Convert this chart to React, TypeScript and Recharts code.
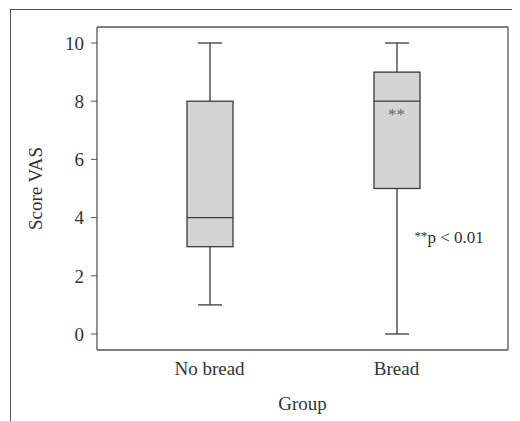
import React from 'react';
import { ComposedChart, Bar, XAxis, YAxis, ReferenceDot, CartesianGrid } from 'recharts';

const groups = ['No bread', 'Bread'];
const mins = [1, 0];
const q1s = [3, 5];
const medians = [4, 8];
const q3s = [8, 9];
const maxs = [10, 10];
const yTicks = [0, 2, 4, 6, 8, 10];
const yDomain = [-0.55, 10.55];

const data = groups.map((g, i) => ({
  group: g,
  box: [q1s[i], q3s[i]],
  min: mins[i],
  q1: q1s[i],
  median: medians[i],
  q3: q3s[i],
  max: maxs[i],
}));

const FONT = '"Liberation Serif", "Times New Roman", serif';
const AXIS = '#555';
const INK = '#333';

// top and right edges of the plot frame, taken from the chart's own offset
const topEdge = (p: any) => (p && p.offset ? [p.offset.top] : []);
const rightEdge = (p: any) => (p && p.offset ? [p.offset.left + p.offset.width] : []);

// box + whiskers, positions derived from the bar geometry (q1..q3)
function BoxShape(props: any) {
  const { x, y, width, height, payload } = props;
  const h = Math.abs(height);
  const top = Math.min(y, y + height);
  const unit = h / (payload.q3 - payload.q1);
  const toY = (v: number) => top + (payload.q3 - v) * unit;
  const cx = x + width / 2;
  const cap = width * 0.26;
  return (
    <g stroke="#3a3a3a" strokeWidth={1.3} fill="none">
      <line x1={cx} x2={cx} y1={toY(payload.max)} y2={toY(payload.q3)} />
      <line x1={cx} x2={cx} y1={toY(payload.q1)} y2={toY(payload.min)} />
      <line x1={cx - cap} x2={cx + cap} y1={toY(payload.max)} y2={toY(payload.max)} />
      <line x1={cx - cap} x2={cx + cap} y1={toY(payload.min)} y2={toY(payload.min)} />
      <rect x={x} y={top} width={width} height={h} fill="#d4d4d4" />
      <line x1={x} x2={x + width} y1={toY(payload.median)} y2={toY(payload.median)} />
    </g>
  );
}

export default function App() {
  return (
    <div style={{ position: 'relative', width: 512, height: 413 }}>
      <div style={{ position: 'absolute', left: -8, top: -8, width: 520, height: 421, background: '#fff' }}>
        {/* cropped outer figure border */}
        <div
          style={{
            position: 'absolute',
            left: 10,
            top: 9,
            right: 0,
            bottom: 0,
            borderTop: `1.5px solid ${AXIS}`,
            borderLeft: `1.5px solid ${AXIS}`,
          }}
        />
        <ComposedChart
          width={520}
          height={421}
          data={data}
          margin={{ top: 27, right: 12, bottom: 0, left: 0 }}
          style={{ position: 'absolute', left: 0, top: 0, fontFamily: FONT }}
        >
          <CartesianGrid
            stroke={AXIS}
            strokeWidth={1.3}
            horizontalCoordinatesGenerator={topEdge}
            verticalCoordinatesGenerator={rightEdge}
          />
          <XAxis
            dataKey="group"
            height={71}
            padding={{ left: 19, right: 18 }}
            tickLine={false}
            tickMargin={6}
            axisLine={{ stroke: AXIS, strokeWidth: 1.3 }}
            tick={{ fill: INK, fontSize: 19, fontFamily: FONT }}
            label={{ value: 'Group', position: 'insideBottom', offset: 11, fill: INK, fontSize: 19, fontFamily: FONT }}
          />
          <YAxis
            width={97}
            domain={yDomain}
            ticks={yTicks}
            tickSize={6}
            tickMargin={7}
            axisLine={{ stroke: AXIS, strokeWidth: 1.3 }}
            tickLine={{ stroke: AXIS }}
            tick={{ fill: INK, fontSize: 19, fontFamily: FONT }}
            label={{ value: 'Score VAS', angle: -90, position: 'center', dx: -13, fill: INK, fontSize: 19, fontFamily: FONT }}
          />
          <Bar dataKey="box" barSize={46} shape={BoxShape} isAnimationActive={false} />
          <ReferenceDot
            x="Bread"
            y={7.55}
            r={0}
            shape={(p: any) => (
              <text x={p.cx} y={p.cy + 6} textAnchor="middle" fontSize={17} fill="#666" fontFamily={FONT}>
                **
              </text>
            )}
          />
          <ReferenceDot
            x="Bread"
            y={3.3}
            r={0}
            shape={(p: any) => (
              <text x={p.cx + 18} y={p.cy + 5} fontSize={17} fill={INK} fontFamily={FONT}>
                <tspan fontSize={13} dy={-3}>**</tspan>
                <tspan dy={3}>p &lt; 0.01</tspan>
              </text>
            )}
          />
        </ComposedChart>
      </div>
    </div>
  );
}
